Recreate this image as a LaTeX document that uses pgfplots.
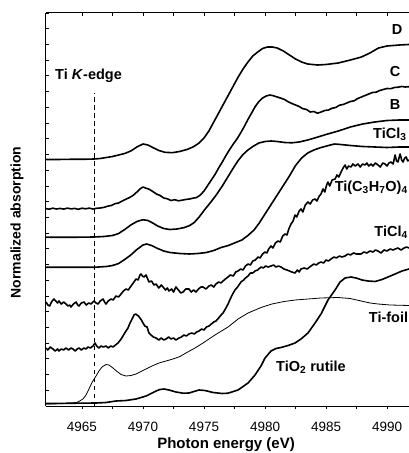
\documentclass[border=0pt]{standalone}
\usepackage{fontspec}
\setmainfont{Liberation Sans}
\usepackage{pgfplots}
\pgfplotsset{compat=1.18}

\newcommand{\lab}{\fontsize{14.5}{16}\selectfont\bfseries}

\begin{document}
\begin{tikzpicture}
\pgfplotsset{
  spec/.style={line width=1.6pt, black, line join=round, no marks},
  box/.style={scale only axis, width=363pt, height=393pt,
    xmin=4962.05, xmax=4991.8, ymin=0, ymax=393,
    xtick={4965,4970,...,4990}, minor x tick num=1,
    major tick length=3pt, minor tick length=3pt,
    axis line style={line width=1pt},
    every tick/.style={line width=0.8pt, black}},
}
% top and left frame lines with inward ticks
\begin{axis}[box,
  axis x line*=top, axis y line*=left, tick align=inside,
  xticklabels={}, ytick={0,15.72,...,393}, yticklabels={},
  ylabel={\fontsize{14}{16}\selectfont\bfseries Normalized absorption},
  ylabel style={at={(rel axis cs:-0.080,0.467)}, anchor=center}]
\end{axis}

% spectra
\begin{axis}[box,
  axis x line*=bottom, axis y line=none, tick align=outside,
  /pgf/number format/1000 sep={},
  /pgf/number format/assume math mode=true,
  xticklabel style={font=\fontsize{13.5}{15}\selectfont, yshift=-10pt},
  xlabel={\fontsize{15}{17}\selectfont\bfseries Photon energy (eV)},
  xlabel style={at={(rel axis cs:0.496,-0.108)}, anchor=base}]

% edge marker
\addplot[black, line width=0.9pt, dash pattern=on 4.5pt off 3.5pt] coordinates {(4966,0) (4966,313)};

% D
\addplot[spec] coordinates {
(4962.0,246.5) (4963.0,246.5) (4964.0,246.7) (4965.0,246.7) (4966.0,247.0)
(4966.5,247.5) (4967.0,248.5) (4967.5,249.5) (4968.0,251.0) (4968.5,252.5)
(4969.0,255.0) (4969.5,259.0) (4970.0,262.0) (4970.4,261.0) (4970.8,258.5)
(4971.3,255.5) (4971.8,253.7) (4972.4,253.3) (4973.0,254.5) (4973.6,256.5)
(4974.1,259.0) (4974.6,263.0) (4975.0,268.0) (4975.4,275.0) (4975.8,284.0)
(4976.2,293.0) (4976.6,302.0) (4977.0,311.0) (4977.4,320.0) (4977.8,329.0)
(4978.2,337.0) (4978.6,344.0) (4979.0,350.0) (4979.4,354.0) (4979.8,357.5)
(4980.2,359.0) (4980.6,359.0) (4981.0,358.0) (4981.5,355.0) (4982.0,351.0)
(4982.5,347.0) (4983.0,344.0) (4983.5,342.0) (4984.3,341.0) (4985.0,341.5)
(4986.0,343.0) (4987.0,346.0) (4987.9,349.0) (4988.6,353.0) (4989.3,358.0)
(4990.0,360.0) (4991.0,361.0) (4991.8,361.5)};

% C
\addplot[spec] coordinates {
(4962.0,197.5) (4962.3,196.8) (4962.6,197.8) (4962.9,197.0) (4963.2,197.6)
(4963.5,196.9) (4963.8,197.9) (4964.1,197.1) (4964.4,197.6) (4964.7,196.7)
(4965.0,197.8) (4965.3,197.2) (4965.6,197.9) (4965.9,197.0) (4966.2,197.7)
(4966.5,198.0) (4966.8,198.6) (4967.1,199.8) (4967.4,200.5) (4967.7,202.3)
(4968.0,203.0) (4968.3,205.0) (4968.6,206.8) (4968.9,208.5) (4969.2,210.7)
(4969.5,214.0) (4969.8,217.5) (4970.0,219.0) (4970.2,218.0) (4970.5,216.8)
(4970.8,214.5) (4971.1,212.0) (4971.4,210.5) (4971.7,208.0) (4972.0,207.2)
(4972.3,205.5) (4972.6,206.3) (4972.9,205.2) (4973.2,205.8) (4973.5,206.5)
(4973.8,207.0) (4974.1,207.8) (4974.4,208.5) (4974.7,211.0) (4975.0,215.0)
(4975.3,220.5) (4975.6,226.0) (4975.9,231.5) (4976.2,238.0) (4976.5,244.0)
(4976.8,250.5) (4977.1,256.5) (4977.4,262.0) (4977.7,267.0) (4978.0,273.0)
(4978.3,279.5) (4978.6,286.5) (4978.9,293.0) (4979.2,299.5) (4979.5,304.5)
(4979.8,308.0) (4980.1,310.0) (4980.4,311.0) (4980.7,310.2) (4981.0,309.0)
(4981.3,307.8) (4981.6,306.5) (4981.9,304.2) (4982.2,302.5) (4982.5,301.0)
(4982.8,299.5) (4983.1,297.3) (4983.4,296.5) (4983.7,294.0) (4984.0,294.5)
(4984.3,292.8) (4984.6,294.0) (4984.9,295.5) (4985.2,296.0) (4985.5,297.8)
(4985.8,298.5) (4986.1,300.8) (4986.4,301.5) (4986.7,303.0) (4987.0,304.5)
(4987.3,305.2) (4987.6,307.5) (4987.9,309.0) (4988.2,310.5) (4988.5,312.0)
(4988.8,313.5) (4989.1,313.8) (4989.4,315.5) (4989.7,316.5) (4990.0,317.5)
(4990.3,317.3) (4990.6,318.5) (4990.9,318.8) (4991.2,319.5) (4991.5,319.0)
(4991.8,319.3)};

% B
\addplot[spec] coordinates {
(4962.0,168.7) (4964.0,168.7) (4966.0,169.0) (4966.8,169.5) (4967.5,170.5)
(4968.0,172.5) (4968.5,176.5) (4969.0,181.0) (4969.5,184.5) (4970.0,186.3)
(4970.4,185.5) (4970.8,183.0) (4971.2,180.0) (4971.7,177.5) (4972.2,176.5)
(4972.8,177.0) (4973.4,178.5) (4973.8,180.3) (4974.2,183.5) (4974.6,189.0)
(4975.0,195.5) (4975.5,203.0) (4976.0,211.0) (4976.5,220.0) (4977.0,230.0)
(4977.4,238.0) (4977.8,245.5) (4978.2,251.5) (4978.6,256.0) (4979.0,259.5)
(4979.5,263.0) (4980.0,264.5) (4980.5,265.0) (4981.0,264.5) (4981.6,263.5)
(4982.2,263.2) (4982.8,264.0) (4983.5,266.0) (4984.2,268.5) (4985.0,271.5)
(4986.0,275.0) (4987.0,279.0) (4988.0,282.0) (4989.0,284.0) (4990.0,285.5)
(4991.0,286.0) (4991.8,286.0)};

% TiCl3
\addplot[spec] coordinates {
(4962.0,138.7) (4964.0,138.7) (4966.0,138.7) (4967.0,139.5) (4967.5,140.5)
(4968.0,142.5) (4968.5,146.5) (4969.0,151.0) (4969.5,156.5) (4970.0,161.0)
(4970.3,162.0) (4970.7,160.5) (4971.2,157.5) (4971.7,155.0) (4972.2,153.5)
(4973.0,152.5) (4973.8,152.0) (4974.5,152.5) (4975.2,153.5) (4975.8,155.5)
(4976.4,158.5) (4977.0,160.5) (4977.6,163.5) (4978.1,166.0) (4978.6,170.5)
(4979.1,176.0) (4979.5,182.5) (4980.0,192.0) (4980.5,201.5) (4981.0,211.0)
(4981.5,220.5) (4982.0,230.0) (4982.5,240.5) (4983.0,248.0) (4983.5,253.0)
(4984.0,256.0) (4984.6,258.5) (4985.2,260.5) (4985.7,262.0) (4986.2,261.5)
(4987.0,260.5) (4988.0,259.5) (4989.0,259.0) (4990.0,258.5) (4991.0,259.0)
(4991.8,259.0)};

% Ti(C3H7O)4
\addplot[spec] coordinates {
(4962.05,104) (4962.20,101) (4962.35,100) (4962.50,104) (4962.70,107)
(4962.85,105) (4963.00,103) (4963.11,105) (4963.30,102) (4963.50,104)
(4963.69,102) (4963.85,100) (4964.00,101) (4964.10,99) (4964.30,102)
(4964.51,104) (4964.65,101) (4964.75,100) (4964.95,103) (4965.16,104)
(4965.35,101) (4965.55,103) (4965.74,102) (4965.90,104) (4965.98,105)
(4966.15,103) (4966.31,102) (4966.50,105) (4966.72,107) (4966.85,104)
(4966.97,102) (4967.15,105) (4967.38,107) (4967.55,106) (4967.79,110)
(4968.00,109) (4968.20,112) (4968.40,115) (4968.61,117) (4968.80,116)
(4969.02,120) (4969.20,123) (4969.43,127) (4969.60,126) (4969.75,131)
(4969.84,132) (4969.95,130) (4970.08,129) (4970.25,131) (4970.49,124)
(4970.70,125) (4970.90,121) (4971.07,122) (4971.30,118) (4971.50,121)
(4971.64,119) (4971.85,116) (4972.00,118) (4972.13,115) (4972.35,117)
(4972.50,114) (4972.70,119) (4972.90,116) (4973.10,113) (4973.28,114)
(4973.50,117) (4973.77,117) (4973.95,114) (4974.15,116) (4974.34,114)
(4974.55,117) (4974.75,119) (4974.92,119) (4975.15,117) (4975.41,120)
(4975.60,121) (4975.80,119) (4975.98,122) (4976.20,124) (4976.40,123)
(4976.56,125) (4976.75,127) (4976.97,129) (4977.15,131) (4977.40,130)
(4977.60,134) (4977.79,135) (4978.00,137) (4978.20,136) (4978.40,140)
(4978.61,142) (4978.80,141) (4979.00,145) (4979.20,146) (4979.43,149)
(4979.60,148) (4979.80,152) (4980.00,154) (4980.15,153) (4980.30,157)
(4980.49,160) (4980.65,158) (4980.85,163) (4981.07,165) (4981.25,164)
(4981.45,170) (4981.64,172) (4981.80,171) (4981.95,177) (4982.13,182)
(4982.30,185) (4982.46,191) (4982.60,189) (4982.80,195) (4982.95,197)
(4983.10,194) (4983.30,201) (4983.52,204) (4983.70,202) (4983.90,206)
(4984.10,207) (4984.25,205) (4984.45,210) (4984.59,212) (4984.75,217)
(4984.90,214) (4985.05,221) (4985.16,224) (4985.30,220) (4985.50,226)
(4985.74,227) (4985.90,231) (4986.05,229) (4986.23,234) (4986.40,238)
(4986.56,241) (4986.70,237) (4986.85,240) (4987.05,239) (4987.20,242)
(4987.40,240) (4987.62,242) (4987.80,239) (4988.00,242) (4988.20,241)
(4988.35,243) (4988.50,240) (4988.69,242) (4988.85,240) (4989.05,243)
(4989.26,241) (4989.45,239) (4989.65,243) (4989.84,242) (4990.00,240)
(4990.15,243) (4990.33,244) (4990.50,242) (4990.66,251) (4990.78,245)
(4990.90,244) (4991.00,249) (4991.07,252) (4991.20,246) (4991.31,244)
(4991.45,248) (4991.56,249) (4991.70,245) (4991.80,246)};

% TiCl4
\addplot[spec] coordinates {
(4962.05,58) (4962.20,56) (4962.40,59) (4962.62,57) (4962.80,55)
(4963.00,57) (4963.11,55) (4963.30,57) (4963.50,56) (4963.69,58)
(4963.90,56) (4964.10,58) (4964.26,57) (4964.45,55) (4964.60,57)
(4964.75,58) (4964.95,56) (4965.15,58) (4965.33,57) (4965.50,59)
(4965.70,58) (4965.90,60) (4966.07,63) (4966.20,60) (4966.39,58)
(4966.55,60) (4966.75,59) (4966.97,60) (4967.15,58) (4967.35,60)
(4967.54,59) (4967.75,61) (4967.95,63) (4968.15,66) (4968.36,70)
(4968.55,74) (4968.77,78) (4968.90,82) (4969.02,85) (4969.15,88)
(4969.26,91) (4969.40,92) (4969.51,91) (4969.63,90) (4969.75,88)
(4969.87,86) (4970.00,83) (4970.15,80) (4970.33,79) (4970.49,73)
(4970.65,71) (4970.85,69) (4971.07,68) (4971.30,66) (4971.50,68)
(4971.70,66) (4971.89,67) (4972.10,69) (4972.30,67) (4972.50,68)
(4972.70,66) (4972.95,68) (4973.15,69) (4973.35,71) (4973.55,70)
(4973.77,72) (4974.00,73) (4974.20,72) (4974.40,74) (4974.59,75)
(4974.80,77) (4975.00,76) (4975.20,79) (4975.41,80) (4975.60,82)
(4975.80,84) (4975.98,85) (4976.20,88) (4976.40,91) (4976.56,93)
(4976.75,97) (4976.97,102) (4977.15,107) (4977.35,112) (4977.54,116)
(4977.75,119) (4978.03,124) (4978.25,126) (4978.40,128) (4978.61,130)
(4978.80,133) (4979.00,133) (4979.18,135) (4979.40,136) (4979.67,139)
(4979.85,138) (4980.05,140) (4980.25,139) (4980.49,140) (4980.70,141)
(4980.90,139) (4981.10,140) (4981.31,139) (4981.55,137) (4981.80,136)
(4982.00,135) (4982.20,134) (4982.46,133) (4982.65,136) (4982.80,134)
(4982.95,137) (4983.20,138) (4983.45,137) (4983.77,140) (4984.00,142)
(4984.20,141) (4984.40,143) (4984.59,144) (4984.80,143) (4985.00,146)
(4985.20,145) (4985.41,147) (4985.65,149) (4985.85,148) (4986.10,150)
(4986.30,149) (4986.56,150) (4986.80,152) (4987.00,151) (4987.25,153)
(4987.50,152) (4987.87,152) (4988.10,154) (4988.35,153) (4988.60,155)
(4988.85,154) (4989.05,156) (4989.26,155) (4989.50,153) (4989.75,156)
(4990.00,155) (4990.25,157) (4990.50,156) (4990.66,157) (4990.90,158)
(4991.15,156) (4991.40,158) (4991.60,159) (4991.80,158)};

% Ti foil
\addplot[black, line width=0.8pt, no marks] coordinates {
(4962.05,2) (4963.20,2.2) (4964.26,3) (4964.67,4) (4965.08,7)
(4965.33,11) (4965.57,17) (4965.82,23.5) (4966.15,30) (4966.39,35)
(4966.64,39) (4966.97,41.5) (4967.21,41) (4967.54,38) (4967.87,34.5)
(4968.20,31.5) (4968.61,30) (4969.02,30.5) (4969.43,32) (4969.84,34.5)
(4970.25,37) (4970.74,40) (4971.31,43) (4971.89,45) (4972.46,47)
(4973.03,49.5) (4973.52,53) (4974.26,58) (4974.92,63) (4975.90,71)
(4976.97,79) (4977.79,87) (4978.61,93) (4979.67,98.5) (4980.57,102)
(4981.56,104.5) (4982.46,106) (4983.52,107) (4984.59,108) (4985.98,108.5)
(4986.97,107.5) (4987.87,105) (4988.61,103) (4989.26,102) (4990.25,101)
(4991.80,100.5)};

% TiO2 rutile
\addplot[spec] coordinates {
(4962.05,2.5) (4966.15,3) (4966.97,3.5) (4967.79,5) (4968.61,5.5)
(4969.43,7) (4969.84,8.5) (4970.25,10) (4970.66,12.5) (4971.07,15)
(4971.39,16.5) (4971.72,17) (4972.13,16) (4972.70,14) (4973.28,12.8)
(4973.77,13) (4974.18,14.5) (4974.59,16) (4975.08,15.5) (4975.74,13.5)
(4976.48,12.5) (4976.97,12.8) (4977.79,16) (4978.61,23) (4979.18,31)
(4979.67,40) (4980.00,48) (4980.49,55) (4980.90,57.5) (4981.31,58.5)
(4981.89,60.5) (4982.46,63) (4982.95,67) (4983.52,73) (4984.10,83)
(4984.59,92) (4985.16,106) (4985.74,116) (4986.15,124) (4986.56,128)
(4987.05,129) (4987.46,128) (4987.95,126) (4988.44,125) (4989.02,124.5)
(4989.59,126.5) (4990.08,129) (4990.66,132) (4991.23,135) (4991.80,137)};

% labels
\node[anchor=west, inner sep=0pt] at (axis cs:4962.79,330) {\lab Ti \textit{K}-edge};
\node[anchor=center, inner sep=0pt] at (axis cs:4990.82,376) {\lab D};
\node[anchor=center, inner sep=0pt] at (axis cs:4990.66,334) {\lab C};
\node[anchor=center, inner sep=0pt] at (axis cs:4990.66,301) {\lab B};
\node[anchor=west, inner sep=0pt] at (axis cs:4988.85,272) {\lab TiCl\textsubscript{3}};
\node[anchor=west, inner sep=0pt] at (axis cs:4985.70,218) {\lab Ti(C\textsubscript{3}H\textsubscript{7}O)\textsubscript{4}};
\node[anchor=west, inner sep=0pt] at (axis cs:4988.95,174) {\lab TiCl\textsubscript{4}};
\node[anchor=west, inner sep=0pt] at (axis cs:4988.50,89) {\lab Ti-foil};
\node[anchor=west, inner sep=0pt] at (axis cs:4980.9,39) {\lab TiO\textsubscript{2} rutile};
\end{axis}
\pgfresetboundingbox
\useasboundingbox (-46pt,-47pt) rectangle (363pt,406pt);
\end{tikzpicture}
\end{document}
